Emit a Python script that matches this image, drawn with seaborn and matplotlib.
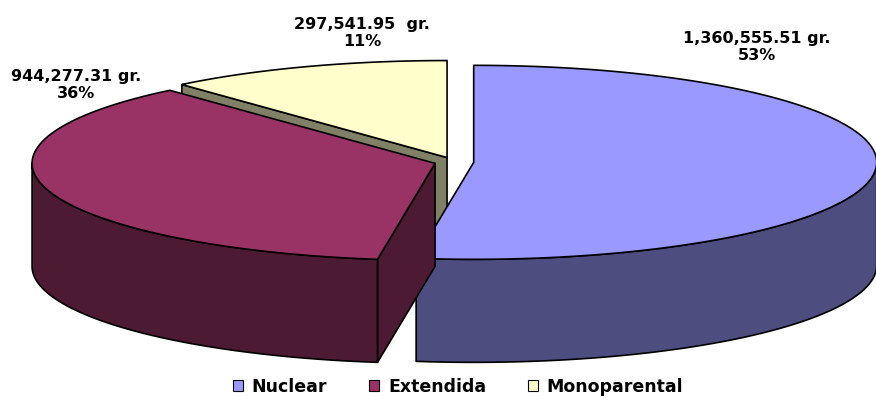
"""
3D exploded pie: grams by family type.
"""
import numpy as np
import matplotlib
matplotlib.use("Agg")
import matplotlib.pyplot as plt
from matplotlib.patches import Polygon, Patch
import seaborn as sns

categories = ["Nuclear", "Extendida", "Monoparental"]
grams = [1360555.51, 944277.31, 297541.95]
value_labels = ["1,360,555.51 gr.", "944,277.31 gr.", "297,541.95  gr."]
pct_labels = ["53%", "36%", "11%"]
top_colors = ["#9999FF", "#993366", "#FFFFCC"]
side_colors = ["#4D4D80", "#4D1A33", "#808066"]

sns.set_theme(style="white")
plt.rcParams["font.family"] = ["DejaVu Sans"]

# pie geometry in pixel space
CX, CY, RX, RY, DEPTH, EXPLODE = 454, 162, 403, 97, 103, 0.049


def rim(ang, ox, oy, z=0.0):
    a = np.radians(ang)
    return np.column_stack([CX + ox + RX * np.sin(a), CY + oy - RY * np.cos(a) + z])


def poly(ax, pts, color):
    ax.add_patch(Polygon(pts, closed=True, facecolor=color, edgecolor="black",
                         lw=1.2, joinstyle="round"))


fig = plt.figure(figsize=(8.76, 4.0), dpi=100)
ax = fig.add_axes([0, 0, 1, 1])
ax.set_xlim(0, 876)
ax.set_ylim(400, 0)
ax.axis("off")

vals = np.array(grams)
ends = np.cumsum(vals) / vals.sum() * 360
starts = np.concatenate([[0], ends[:-1]])
mids = (starts + ends) / 2

# back slices first
order = np.argsort(-np.cos(np.radians(mids)))
for i in order:
    a0, a1, bis = starts[i], ends[i], mids[i]
    ox = EXPLODE * RX * np.sin(np.radians(bis))
    oy = -EXPLODE * RY * np.cos(np.radians(bis))
    c = np.array([[CX + ox, CY + oy]])
    cb = c + [0, DEPTH]

    # radial cut faces that face the viewer
    for ang, nrm in [(a0, a0 - 90), (a1, a1 + 90)]:
        if np.cos(np.radians(nrm)) < -1e-6:
            t = rim([ang], ox, oy)
            b = rim([ang], ox, oy, DEPTH)
            poly(ax, np.vstack([c, t, b, cb]), side_colors[i])

    # outer wall on the front half
    lo, hi = max(a0, 90), min(a1, 270)
    if hi > lo:
        arc = np.linspace(lo, hi, 120)
        poly(ax, np.vstack([rim(arc, ox, oy), rim(arc[::-1], ox, oy, DEPTH)]), side_colors[i])

    # top face
    arc = np.linspace(a0, a1, 200)
    poly(ax, np.vstack([c, rim(arc, ox, oy)]), top_colors[i])

label_pos = [(757, 47), (76, 85), (362, 33)]
for (x, y), v, p in zip(label_pos, value_labels, pct_labels):
    ax.text(x, y, f"{v}\n{p}", ha="center", va="center", fontsize=11.5,
            fontweight="bold", color="black", linespacing=1.25)

handles = [Patch(facecolor=top_colors[i], edgecolor="black", lw=0.8) for i in range(3)]
leg = ax.legend(handles, categories, loc="center", bbox_to_anchor=(458, 387),
                bbox_transform=ax.transData, ncol=3, frameon=False,
                prop={"weight": "bold", "size": 12.5}, handlelength=0.6,
                handleheight=0.6, handletextpad=0.5, columnspacing=2.4,
                borderpad=0, labelcolor="black")

fig.savefig("out.png", dpi=100)
